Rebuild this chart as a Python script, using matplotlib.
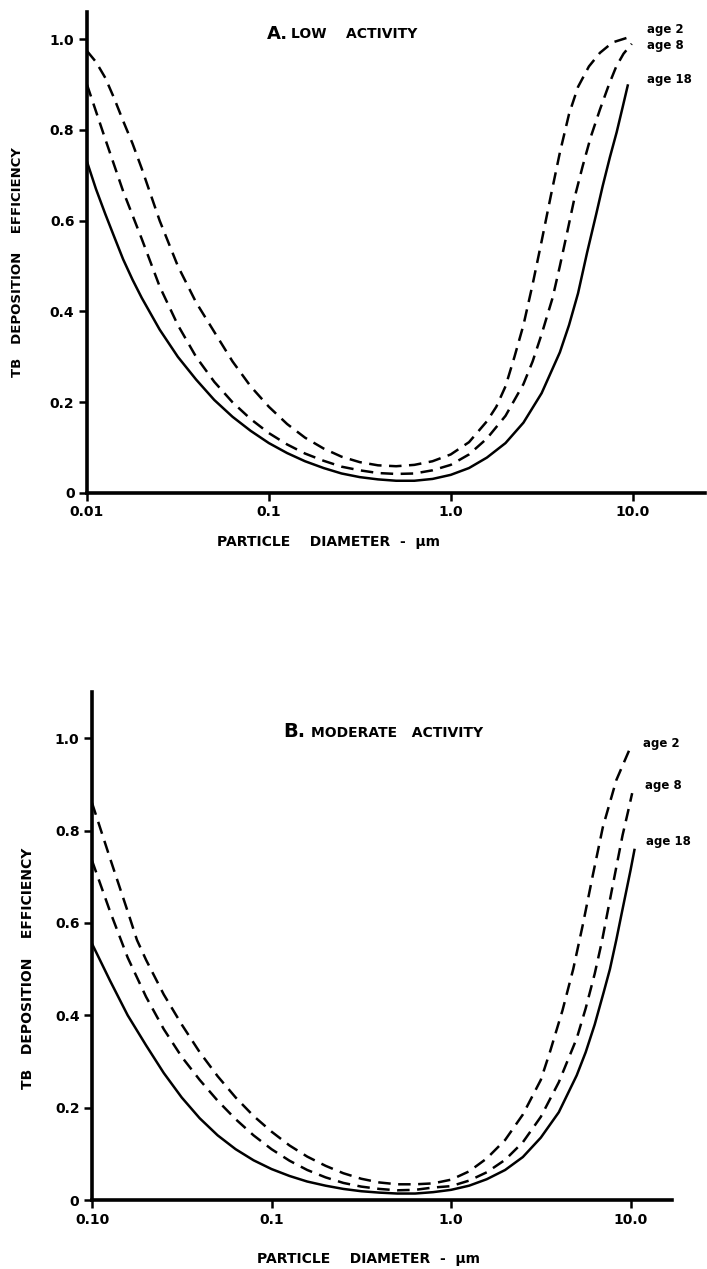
import matplotlib.pyplot as plt

plt.rcParams['font.family'] = ['DejaVu Sans']
plt.rcParams['font.weight'] = 'bold'

# --- panel A: low activity (diameter in um, TB deposition efficiency) ---
a2_d = [0.010, 0.0112, 0.0126, 0.0141, 0.0158, 0.0178, 0.020, 0.0251, 0.0316, 0.0398,
        0.0501, 0.0631, 0.0794, 0.100, 0.126, 0.158, 0.200, 0.251, 0.316, 0.398,
        0.501, 0.631, 0.794, 1.00, 1.26, 1.58, 1.78, 2.00, 2.24, 2.51, 2.82, 3.16,
        3.55, 3.98, 4.47, 5.01, 5.75, 6.61, 7.76, 10.0]
a2_e = [0.974, 0.95, 0.915, 0.87, 0.82, 0.77, 0.715, 0.60, 0.50, 0.42,
        0.355, 0.29, 0.235, 0.19, 0.152, 0.122, 0.098, 0.080, 0.068, 0.061,
        0.059, 0.062, 0.070, 0.085, 0.112, 0.158, 0.19, 0.235, 0.30, 0.37, 0.46, 0.555,
        0.655, 0.75, 0.835, 0.895, 0.94, 0.97, 0.993, 1.007]

a8_d = [0.010, 0.0126, 0.0158, 0.020, 0.0251, 0.0316, 0.0398, 0.0501, 0.0631, 0.0794,
        0.100, 0.126, 0.158, 0.200, 0.251, 0.316, 0.398, 0.501, 0.631, 0.794,
        1.00, 1.26, 1.58, 2.00, 2.51, 2.82, 3.16, 3.63, 3.98, 4.37, 4.79, 5.31,
        5.89, 6.61, 7.41, 8.13, 8.91, 9.89]
a8_e = [0.90, 0.78, 0.665, 0.56, 0.455, 0.37, 0.30, 0.245, 0.20, 0.163,
        0.132, 0.107, 0.087, 0.071, 0.058, 0.050, 0.044, 0.042, 0.043, 0.050,
        0.062, 0.085, 0.12, 0.17, 0.24, 0.29, 0.35, 0.43, 0.50, 0.575, 0.65, 0.72,
        0.785, 0.845, 0.90, 0.94, 0.968, 0.99]

a18_d = [0.010, 0.0112, 0.0126, 0.0141, 0.0158, 0.0178, 0.020, 0.0251, 0.0316, 0.0398,
         0.0501, 0.0631, 0.0794, 0.100, 0.126, 0.158, 0.200, 0.251, 0.316, 0.398,
         0.501, 0.631, 0.794, 1.00, 1.26, 1.58, 2.00, 2.51, 3.16, 3.98, 4.47, 5.01,
         5.62, 6.31, 6.84, 7.50, 8.17, 8.81, 9.40]
a18_e = [0.73, 0.67, 0.615, 0.565, 0.515, 0.47, 0.43, 0.36, 0.30, 0.25,
         0.205, 0.168, 0.137, 0.11, 0.088, 0.07, 0.055, 0.043, 0.035, 0.030,
         0.027, 0.027, 0.031, 0.040, 0.055, 0.078, 0.11, 0.155, 0.22, 0.31, 0.37, 0.44,
         0.53, 0.615, 0.676, 0.74, 0.795, 0.85, 0.898]

# --- panel B: moderate activity ---
b2_d = [0.010, 0.0126, 0.0158, 0.0178, 0.0200, 0.0251, 0.0316, 0.0398, 0.0501, 0.0631,
        0.0794, 0.100, 0.126, 0.158, 0.200, 0.251, 0.316, 0.398, 0.501, 0.631,
        0.794, 1.00, 1.26, 1.58, 2.00, 2.51, 3.16, 3.55, 4.17, 4.79, 5.41, 6.17,
        7.00, 8.32, 10.1]
b2_e = [0.86, 0.74, 0.625, 0.563, 0.52, 0.445, 0.38, 0.32, 0.268, 0.222,
        0.182, 0.148, 0.118, 0.094, 0.074, 0.058, 0.046, 0.038, 0.034, 0.034,
        0.036, 0.044, 0.062, 0.09, 0.13, 0.185, 0.26, 0.32, 0.41, 0.50, 0.595, 0.705,
        0.807, 0.909, 0.985]

b8_d = [0.010, 0.0126, 0.0158, 0.020, 0.0251, 0.0316, 0.0398, 0.0501, 0.0631, 0.0794,
        0.100, 0.126, 0.158, 0.200, 0.251, 0.316, 0.398, 0.501, 0.631, 0.794,
        1.00, 1.26, 1.58, 2.00, 2.51, 3.16, 3.98, 5.01, 5.62, 6.31, 6.92, 7.41,
        7.94, 8.51, 9.02, 9.66, 10.2]
b8_e = [0.735, 0.625, 0.525, 0.44, 0.37, 0.31, 0.26, 0.215, 0.175, 0.14,
        0.11, 0.085, 0.065, 0.049, 0.037, 0.029, 0.024, 0.021, 0.022, 0.027,
        0.030, 0.042, 0.060, 0.087, 0.125, 0.18, 0.255, 0.35, 0.415, 0.49, 0.56, 0.62,
        0.68, 0.74, 0.79, 0.84, 0.881]

b18_d = [0.010, 0.0126, 0.0158, 0.020, 0.0251, 0.0316, 0.0398, 0.0501, 0.0631, 0.0794,
         0.100, 0.126, 0.158, 0.200, 0.251, 0.316, 0.398, 0.501, 0.631, 0.794,
         1.00, 1.26, 1.58, 2.00, 2.51, 3.16, 3.98, 5.01, 5.62, 6.31, 7.08, 7.67,
         8.32, 8.91, 9.48, 10.0, 10.5]
b18_e = [0.555, 0.475, 0.40, 0.335, 0.275, 0.222, 0.177, 0.140, 0.110, 0.086,
         0.067, 0.052, 0.040, 0.031, 0.024, 0.019, 0.016, 0.014, 0.014, 0.017,
         0.022, 0.031, 0.045, 0.065, 0.093, 0.135, 0.19, 0.27, 0.32, 0.38, 0.45, 0.50,
         0.563, 0.62, 0.671, 0.715, 0.758]

x_ticks = [0.01, 0.1, 1.0, 10.0]
x_labels_a = ['0.01', '0.1', '1.0', '10.0']
x_labels_b = ['0.10', '0.1', '1.0', '10.0']
y_ticks = [0, 0.2, 0.4, 0.6, 0.8, 1.0]
y_labels = ['0', '0.2', '0.4', '0.6', '0.8', '1.0']

W, H = 707, 1269
fig = plt.figure(figsize=(W / 100, H / 100), dpi=100)


def px(x, y):
    return x / W, 1 - y / H


def style_axes(ax, xmax, ymax, xlabels):
    ax.set_xscale('log')
    ax.set_xlim(0.01, xmax)
    ax.set_ylim(0, ymax)
    for s in ['top', 'right']:
        ax.spines[s].set_visible(False)
    for s in ['left', 'bottom']:
        ax.spines[s].set_linewidth(2.6)
    ax.set_xticks(x_ticks)
    ax.set_xticklabels(xlabels)
    ax.xaxis.set_minor_locator(plt.NullLocator())
    ax.set_yticks(y_ticks)
    ax.set_yticklabels(y_labels)
    ax.tick_params(direction='out', length=6, width=1.8, labelsize=10, pad=3)
    for lab in ax.get_xticklabels() + ax.get_yticklabels():
        lab.set_fontweight('bold')


def draw(ax, curves):
    for d, e, dashed in curves:
        if dashed:
            ax.plot(d, e, color='black', lw=1.8, dashes=(5, 3))
        else:
            ax.plot(d, e, color='black', lw=1.8)


# panel A
axA = fig.add_axes([87 / W, 1 - 493 / H, (705 - 87) / W, (493 - 12) / H])
style_axes(axA, 25.0, 1.06, x_labels_a)
draw(axA, [(a2_d, a2_e, True), (a8_d, a8_e, True), (a18_d, a18_e, False)])

# panel B
axB = fig.add_axes([92 / W, 1 - 1200 / H, (672 - 92) / W, (1200 - 692) / H])
style_axes(axB, 17.0, 1.10, x_labels_b)
draw(axB, [(b2_d, b2_e, True), (b8_d, b8_e, True), (b18_d, b18_e, False)])

# titles
fig.text(*px(267, 39), 'A.', fontsize=13, fontweight='bold', ha='left', va='baseline')
fig.text(*px(291, 38), 'LOW    ACTIVITY', fontsize=10, fontweight='bold', ha='left', va='baseline')
fig.text(*px(283, 737), 'B.', fontsize=14, fontweight='bold', ha='left', va='baseline')
fig.text(*px(311, 737), 'MODERATE   ACTIVITY', fontsize=10, fontweight='bold', ha='left', va='baseline')

# age labels
for txt, x, y in [('age 2', 647, 29), ('age 8', 647, 45), ('age 18', 647, 80),
                  ('age 2', 643, 744), ('age 8', 645, 785), ('age 18', 646, 842)]:
    fig.text(*px(x, y), txt, fontsize=8.5, fontweight='bold', ha='left', va='center')

# axis labels
ylab = 'TB   DEPOSITION    EFFICIENCY'
fig.text(*px(18, 262), ylab, rotation=90, fontsize=9.5, fontweight='bold', ha='center', va='center')
fig.text(*px(28, 968), ylab, rotation=90, fontsize=10, fontweight='bold', ha='center', va='center')
xlab = 'PARTICLE    DIAMETER  -  \u03bcm'
fig.text(*px(217, 542), xlab, fontsize=10, fontweight='bold', ha='left', va='center')
fig.text(*px(257, 1259), xlab, fontsize=10, fontweight='bold', ha='left', va='center')

fig.savefig('out.png', dpi=100)
